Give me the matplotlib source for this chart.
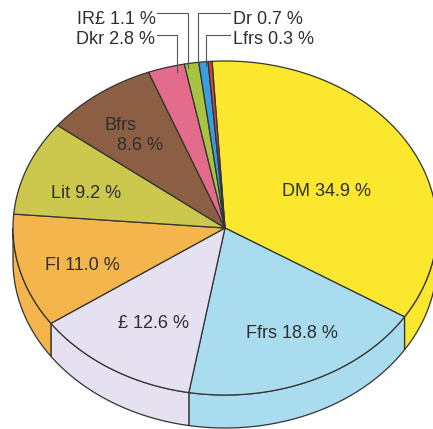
import numpy as np
import matplotlib
matplotlib.use("Agg")
import matplotlib.pyplot as plt
from matplotlib.patches import Polygon

# Currency shares (percent), drawn clockwise from the top
currencies = ["DM", "Ffrs", "£", "Fl", "Lit", "Bfrs", "Dkr", "IR£", "Dr", "Lfrs"]
shares = [34.9, 18.8, 12.6, 11.0, 9.2, 8.6, 2.8, 1.1, 0.7, 0.3]
colors = ["#fbe82e", "#aadcf0", "#e5e1f1", "#f4b64c", "#ccc84e", "#8c5f45",
          "#e36b8c", "#a8c242", "#3a9fe0", "#cc4545"]

# Pie geometry in pixel space
CX, CY = 225.0, 228.0
RX, RY = 212.0, 167.0
DEPTH = 33.0
START = 93.5
EDGE = "#333333"
TEXT = "#2e2e2e"

fig = plt.figure(figsize=(4.33, 4.29), dpi=100)
ax = fig.add_axes([0, 0, 1, 1])
ax.set_xlim(0, 433)
ax.set_ylim(429, 0)
ax.axis("off")


def rim(theta_deg, dy=0.0):
    t = np.radians(theta_deg)
    return np.column_stack([CX + RX * np.cos(t), CY - RY * np.sin(t) + dy])


# slice angle intervals (clockwise)
bounds = START - np.concatenate([[0], np.cumsum(shares)]) * 3.6
for i, (name, col) in enumerate(zip(currencies, colors)):
    hi, lo = bounds[i], bounds[i + 1]
    # side wall on the front half of the disc
    a, b = max(lo, -180.0), min(hi, 0.0)
    if b > a:
        th = np.linspace(b, a, 80)
        top = rim(th)
        bot = rim(th, DEPTH)[::-1]
        ax.add_patch(Polygon(np.vstack([top, bot]), closed=True, facecolor=col,
                             edgecolor=EDGE, lw=0.9, zorder=1))

for i, (name, col) in enumerate(zip(currencies, colors)):
    hi, lo = bounds[i], bounds[i + 1]
    th = np.linspace(hi, lo, max(4, int((hi - lo) * 2)))
    pts = np.vstack([[CX, CY], rim(th)])
    ax.add_patch(Polygon(pts, closed=True, facecolor=col, edgecolor=EDGE,
                         lw=0.9, zorder=2, joinstyle="round"))

labels = {c: f"{c} {v:.1f} %" for c, v in zip(currencies, shares)}
fs = 13
font = dict(family=["Liberation Sans", "DejaVu Sans"], fontsize=fs, color=TEXT)

# labels on the slices
inside = {"DM": (327, 192), "Ffrs": (292, 333), "£": (153, 323),
          "Fl": (82, 266), "Lit": (86, 193)}
for c, (x, y) in inside.items():
    ax.text(x, y, labels[c], ha="center", va="center", zorder=5, **font)
ax.text(120, 125, "Bfrs", ha="center", va="center", zorder=5, **font)
ax.text(140, 146, f"{shares[5]:.1f} %", ha="center", va="center", zorder=5, **font)

# labels of the thin slices with leader lines
outside = {
    "IR£": ((77, 20), [(157, 13), (188, 13), (188, 68)]),
    "Dkr": ((76, 39), [(157, 35), (177, 35), (177, 72)]),
    "Dr": ((233, 20), [(230, 13), (198, 13), (198, 63)]),
    "Lfrs": ((233, 39), [(230, 35), (206, 35), (206, 66)]),
}
for c, ((x, y), path) in outside.items():
    ax.text(x, y, labels[c], ha="left", va="center", zorder=5, **font)
    p = np.array(path)
    ax.plot(p[:, 0], p[:, 1], color="#555555", lw=0.8, zorder=4,
            solid_joinstyle="miter")

fig.savefig("out.png", dpi=100, facecolor="white")
